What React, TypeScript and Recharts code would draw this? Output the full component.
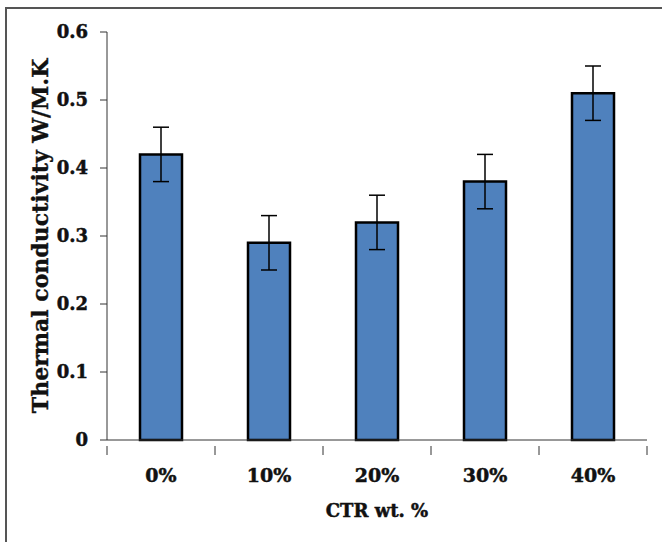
import { Bar, BarChart, ErrorBar, XAxis, YAxis, Label } from "recharts";

const levels = ["0%", "10%", "20%", "30%", "40%"];
const conductivity = [0.42, 0.29, 0.32, 0.38, 0.51];
const spread = [0.04, 0.04, 0.04, 0.04, 0.04];
const yTicks = [0, 0.1, 0.2, 0.3, 0.4, 0.5, 0.6];

const data = levels.map((level, i) => ({
  level,
  k: conductivity[i],
  err: spread[i],
}));

const W = 662;
const H = 542;
const margin = { top: 32, right: 15, bottom: 0, left: 47 };
const yAxisW = 60;
const halfBand = (W - margin.left - margin.right - yAxisW) / levels.length / 2;
const font = "'DejaVu Serif', serif";
const ink = "#111";

const XTick = (props: any) => {
  const { x, y, payload, index } = props;
  return (
    <g>
      <line x1={x - halfBand} y1={y - 2} x2={x - halfBand} y2={y + 7} stroke="#333" />
      {index === levels.length - 1 && (
        <line x1={x + halfBand} y1={y - 2} x2={x + halfBand} y2={y + 7} stroke="#333" />
      )}
      <text
        x={x}
        y={y + 34}
        textAnchor="middle"
        fontFamily={font}
        fontWeight="bold"
        fontSize={19}
        fill={ink}
        stroke={ink}
        strokeWidth={0.5}
      >
        {payload.value}
      </text>
    </g>
  );
};

export default function App() {
  return (
    <div
      style={{
        position: "absolute",
        left: 0,
        top: 0,
        width: W,
        height: H,
        background: "#fff",
      }}
    >
      <div
        style={{
          position: "absolute",
          left: 5,
          top: 7,
          width: W - 5,
          height: H - 7,
          borderTop: "2px solid #555",
          borderLeft: "2px solid #555",
        }}
      />
      <BarChart
        width={W}
        height={H}
        data={data}
        margin={margin}
        style={{ position: "absolute", left: 0, top: 0 }}
      >
        <XAxis
          dataKey="level"
          height={102}
          stroke="#333"
          tickLine={false}
          tick={<XTick />}
          interval={0}
        >
          <Label
            value="CTR wt. %"
            position="insideTop"
            offset={64}
            style={{
              fontFamily: font,
              fontWeight: "bold",
              fontSize: 18,
              fill: ink,
              stroke: ink,
              strokeWidth: 0.5,
            }}
          />
        </XAxis>
        <YAxis
          width={yAxisW}
          domain={[0, 0.6]}
          ticks={yTicks}
          stroke="#333"
          tickSize={7}
          tickMargin={12}
          tick={{
            fontFamily: font,
            fontWeight: "bold",
            fontSize: 18,
            fill: ink,
            stroke: ink,
            strokeWidth: 0.5,
          }}
        >
          <Label
            value="Thermal conductivity W/M.K"
            angle={-90}
            position="left"
            offset={7}
            style={{
              fontFamily: font,
              fontWeight: "bold",
              fontSize: 22,
              fill: ink,
              stroke: ink,
              strokeWidth: 0.4,
              textAnchor: "middle",
            }}
          />
        </YAxis>
        <Bar
          dataKey="k"
          fill="#4f81bd"
          stroke="#000"
          strokeWidth={2.5}
          barSize={42}
          isAnimationActive={false}
        >
          <ErrorBar dataKey="err" width={8} stroke="#000" strokeWidth={1.5} />
        </Bar>
      </BarChart>
    </div>
  );
}
